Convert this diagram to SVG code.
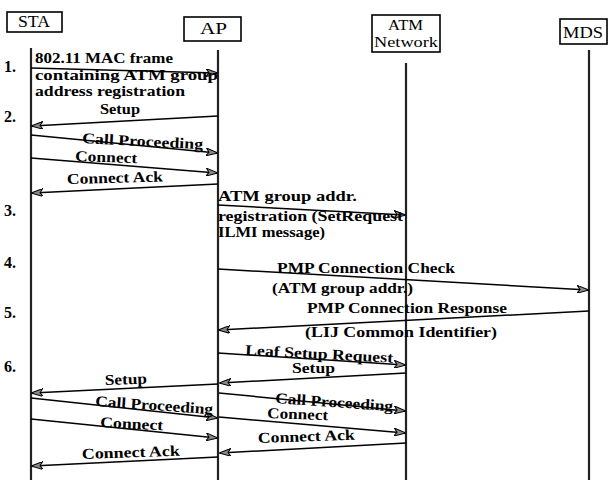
<svg xmlns="http://www.w3.org/2000/svg" width="609" height="480" viewBox="0 0 609 480">
<style>
.box{fill:#fff;stroke:#000;stroke-width:1.6}
.life{stroke:#222;stroke-width:2.2;fill:none}
.msg{stroke:#000;stroke-width:1.5;fill:none;marker-end:url(#ah)}
.hd{font-family:"Liberation Serif","Times New Roman",serif;font-size:16px;fill:#000}
.hs{font-family:"Liberation Serif","Times New Roman",serif;font-size:15px;fill:#000}
.t{font-family:"Liberation Serif","Times New Roman",serif;font-size:15px;font-weight:bold;fill:#000}
.n{font-family:"Liberation Serif","Times New Roman",serif;font-size:16px;font-weight:bold;fill:#000}
</style>
<defs>
<marker id="ah" viewBox="0 0 12 8" refX="11" refY="4" markerWidth="12" markerHeight="8" markerUnits="userSpaceOnUse" orient="auto">
<path d="M0,0 L12,4 L0,8 L3,4 z" fill="#888" stroke="#000" stroke-width="1"/>
</marker>
</defs>
<rect width="609" height="480" fill="#fff"/>
<g id="STA">
<rect class="box" x="7" y="12" width="55" height="20"/>
<text class="hd" x="18" y="27" textLength="32" lengthAdjust="spacingAndGlyphs">STA</text>
<line class="life" x1="31" y1="48" x2="31" y2="480"/>
</g>
<g id="AP">
<rect class="box" x="184" y="17" width="57" height="24"/>
<text class="hd" x="200" y="34" textLength="27" lengthAdjust="spacingAndGlyphs">AP</text>
<line class="life" x1="218" y1="50" x2="218" y2="480"/>
</g>
<g id="ATM">
<rect class="box" x="372" y="15" width="68" height="37"/>
<text class="hs" x="388" y="30" textLength="35" lengthAdjust="spacingAndGlyphs">ATM</text>
<text class="hs" x="374" y="47" textLength="64" lengthAdjust="spacingAndGlyphs">Network</text>
<line class="life" x1="406" y1="63" x2="406" y2="480"/>
</g>
<g id="MDS">
<rect class="box" x="560" y="19" width="47" height="25"/>
<text class="hd" x="563" y="38" textLength="40" lengthAdjust="spacingAndGlyphs">MDS</text>
<line class="life" x1="589" y1="50" x2="589" y2="480"/>
</g>
<g id="connectors">
<line class="msg" x1="31" y1="68" x2="217" y2="73"/>
<line class="msg" x1="218" y1="116" x2="32" y2="126"/>
<line class="msg" x1="31" y1="135" x2="217" y2="153"/>
<line class="msg" x1="31" y1="158" x2="217" y2="173"/>
<line class="msg" x1="218" y1="184" x2="32" y2="193"/>
<line class="msg" x1="218" y1="205" x2="405" y2="215"/>
<line class="msg" x1="218" y1="269" x2="588" y2="290"/>
<line class="msg" x1="589" y1="311" x2="219" y2="330"/>
<line class="msg" x1="218" y1="353" x2="405" y2="365"/>
<line class="msg" x1="406" y1="373" x2="220" y2="383"/>
<line class="msg" x1="218" y1="384" x2="32" y2="393"/>
<line class="msg" x1="31" y1="398" x2="217" y2="418"/>
<line class="msg" x1="219" y1="393" x2="405" y2="411"/>
<line class="msg" x1="31" y1="419" x2="217" y2="438"/>
<line class="msg" x1="219" y1="417" x2="405" y2="433"/>
<line class="msg" x1="406" y1="443" x2="220" y2="453"/>
<line class="msg" x1="218" y1="457" x2="32" y2="466"/>
</g>
<g id="labels">
<text class="n" x="4" y="72">1.</text>
<text class="n" x="4" y="122">2.</text>
<text class="n" x="4" y="216">3.</text>
<text class="n" x="4" y="268">4.</text>
<text class="n" x="4" y="318">5.</text>
<text class="n" x="4" y="372">6.</text>
<text class="t" x="35" y="63" textLength="138" lengthAdjust="spacingAndGlyphs">802.11 MAC frame</text>
<text class="t" x="35" y="80" textLength="183" lengthAdjust="spacingAndGlyphs">containing ATM group</text>
<text class="t" x="35" y="96" textLength="150" lengthAdjust="spacingAndGlyphs">address registration</text>
<text class="t" x="100" y="114" textLength="40" lengthAdjust="spacingAndGlyphs">Setup</text>
<text class="t" x="82" y="143" textLength="121" lengthAdjust="spacingAndGlyphs" transform="rotate(3 82 143)">Call Proceeding</text>
<text class="t" x="75" y="161" textLength="62" lengthAdjust="spacingAndGlyphs" transform="rotate(2 75 161)">Connect</text>
<text class="t" x="67" y="184" textLength="96" lengthAdjust="spacingAndGlyphs" transform="rotate(-1.5 67 184)">Connect Ack</text>
<text class="t" x="218" y="201" textLength="139" lengthAdjust="spacingAndGlyphs">ATM group addr.</text>
<text class="t" x="218" y="221" textLength="185" lengthAdjust="spacingAndGlyphs">registration (SetRequest</text>
<text class="t" x="218" y="237" textLength="107" lengthAdjust="spacingAndGlyphs">ILMI message)</text>
<text class="t" x="277" y="273" textLength="178" lengthAdjust="spacingAndGlyphs">PMP Connection Check</text>
<text class="t" x="272" y="293" textLength="141" lengthAdjust="spacingAndGlyphs">(ATM group addr.)</text>
<text class="t" x="307" y="313" textLength="200" lengthAdjust="spacingAndGlyphs">PMP Connection Response</text>
<text class="t" x="305" y="337" textLength="192" lengthAdjust="spacingAndGlyphs">(LIJ Common Identifier)</text>
<text class="t" x="245" y="355" textLength="148" lengthAdjust="spacingAndGlyphs" transform="rotate(3 245 355)">Leaf Setup Request</text>
<text class="t" x="292" y="373" textLength="43" lengthAdjust="spacingAndGlyphs">Setup</text>
<text class="t" x="275" y="403" textLength="118" lengthAdjust="spacingAndGlyphs" transform="rotate(4 275 403)">Call Proceeding</text>
<text class="t" x="267" y="418" textLength="61" lengthAdjust="spacingAndGlyphs" transform="rotate(2 267 418)">Connect</text>
<text class="t" x="258" y="443" textLength="97" lengthAdjust="spacingAndGlyphs" transform="rotate(-2 258 443)">Connect Ack</text>
<text class="t" x="105" y="385" textLength="42" lengthAdjust="spacingAndGlyphs" transform="rotate(-2 105 385)">Setup</text>
<text class="t" x="95" y="406" textLength="118" lengthAdjust="spacingAndGlyphs" transform="rotate(4 95 406)">Call Proceeding</text>
<text class="t" x="100" y="427" textLength="63" lengthAdjust="spacingAndGlyphs" transform="rotate(3 100 427)">Connect</text>
<text class="t" x="82" y="459" textLength="98" lengthAdjust="spacingAndGlyphs" transform="rotate(-2 82 459)">Connect Ack</text>
</g>
</svg>
